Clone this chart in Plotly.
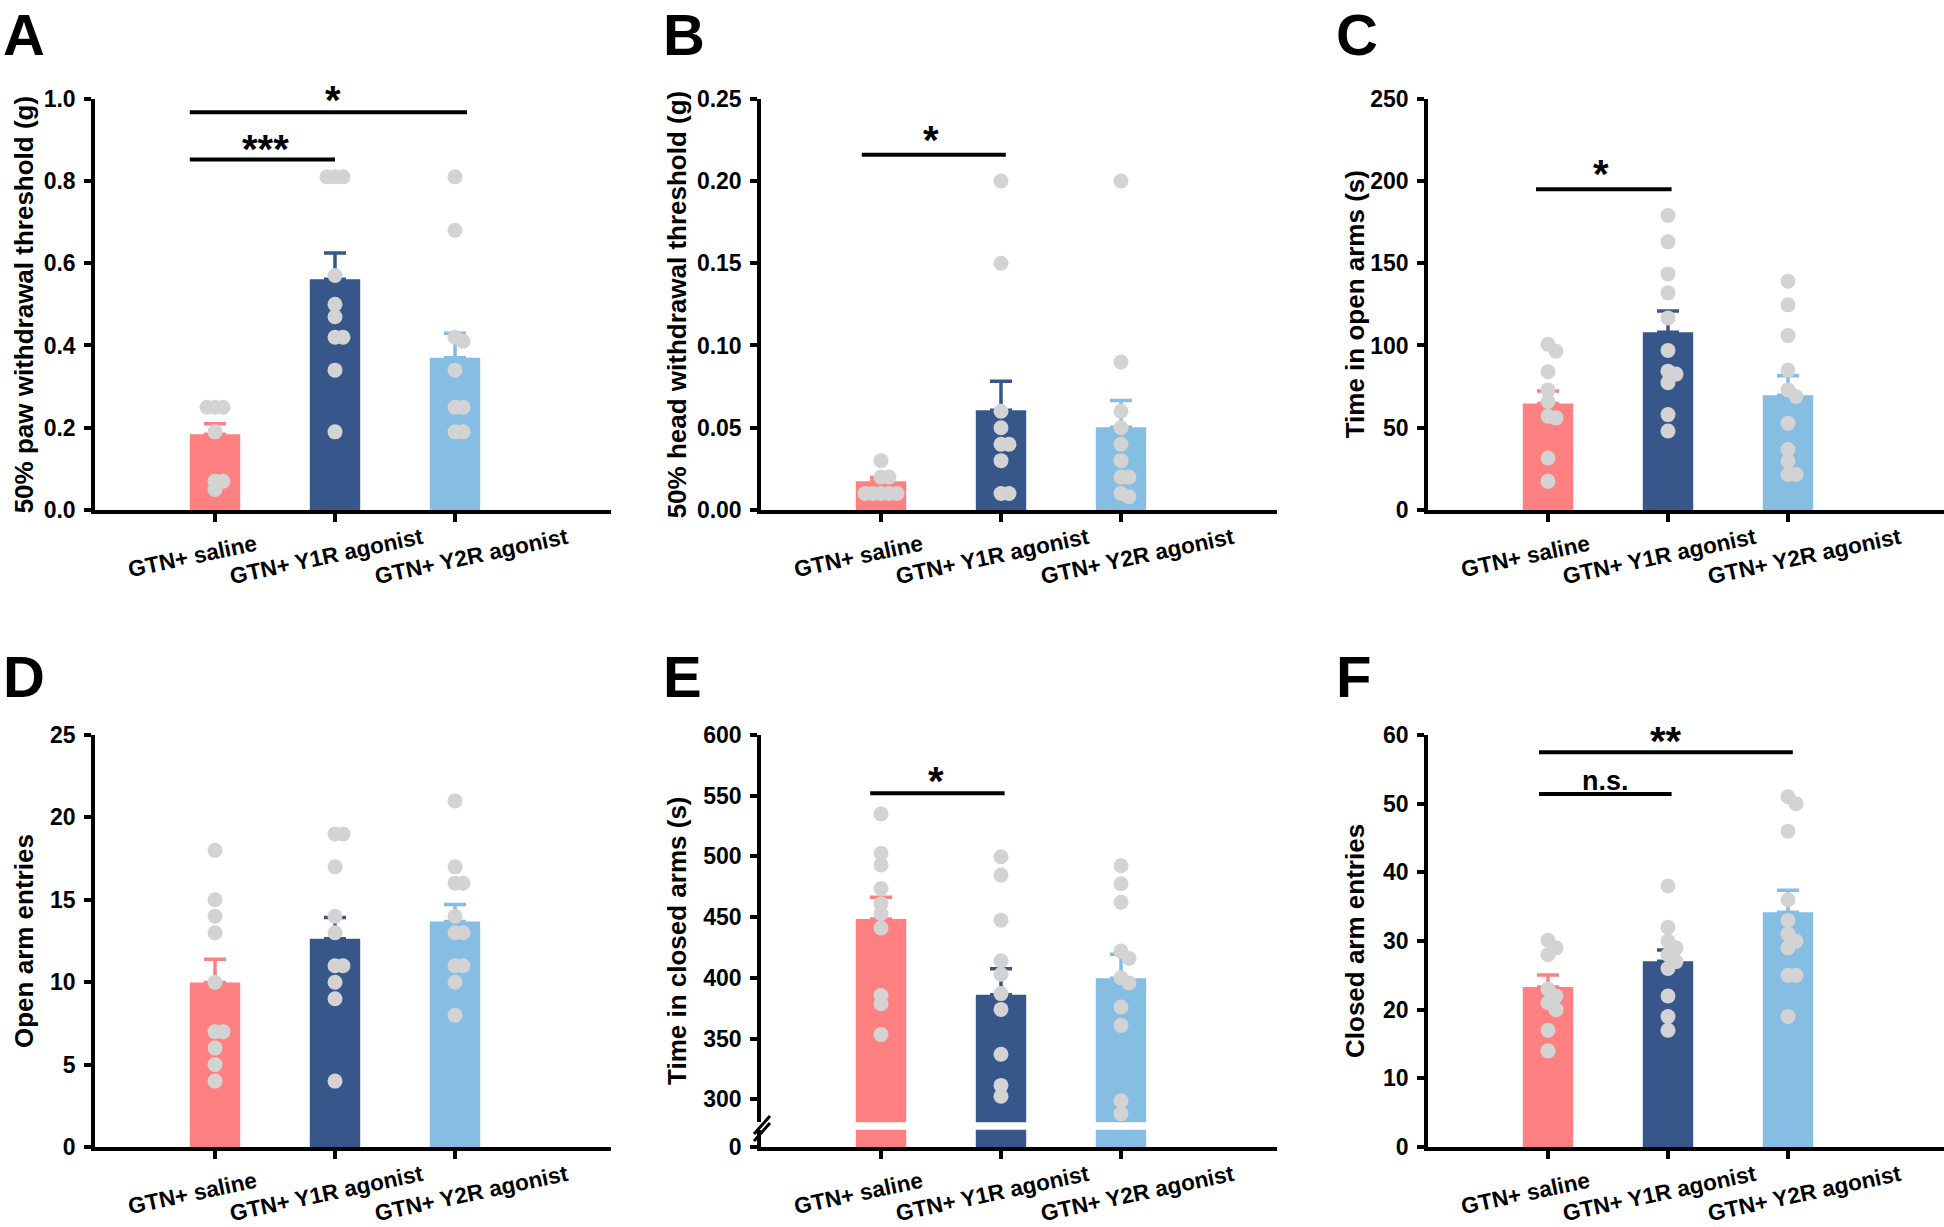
import plotly.graph_objects as go

W, H = 1944, 1227
FONT = "Liberation Sans, Arial, sans-serif"

categories = ["GTN+ saline", "GTN+ Y1R agonist", "GTN+ Y2R agonist"]
bar_colors = ["#FF8080", "#37578A", "#86BDE3"]
dot_color = "#D3D3D3"

# ---------------- data ----------------
# A: 50% paw withdrawal threshold (g)
A_mean = [0.184, 0.561, 0.370]
A_sem = [0.026, 0.064, 0.060]
A_saline = [0.25, 0.25, 0.25, 0.19, 0.07, 0.07, 0.05]
A_y1r = [0.81, 0.81, 0.81, 0.57, 0.50, 0.47, 0.42, 0.42, 0.34, 0.19]
A_y2r = [0.81, 0.68, 0.42, 0.41, 0.34, 0.25, 0.25, 0.19, 0.19]
A_ticks = [0.0, 0.2, 0.4, 0.6, 0.8, 1.0]
A_ticktext = ["0.0", "0.2", "0.4", "0.6", "0.8", "1.0"]

# B: 50% head withdrawal threshold (g)
B_mean = [0.0174, 0.0607, 0.0503]
B_sem = [0.0024, 0.0175, 0.0162]
B_saline = [0.03, 0.02, 0.02, 0.01, 0.01, 0.01, 0.01, 0.01]
B_y1r = [0.20, 0.15, 0.06, 0.05, 0.04, 0.04, 0.03, 0.01, 0.01]
B_y2r = [0.20, 0.09, 0.06, 0.05, 0.04, 0.03, 0.02, 0.02, 0.01, 0.008]
B_ticks = [0.0, 0.05, 0.10, 0.15, 0.20, 0.25]
B_ticktext = ["0.00", "0.05", "0.10", "0.15", "0.20", "0.25"]

# C: Time in open arms (s)
C_mean = [64.7, 108.0, 69.8]
C_sem = [7.6, 13.0, 11.8]
C_saline = [100.7, 96.5, 84, 73, 66, 57, 56, 31.6, 17.4]
C_y1r = [179, 163, 143.5, 132, 116.7, 97, 84.4, 82.6, 77.4, 58, 48]
C_y2r = [139, 124.7, 106, 85, 73, 69, 52.8, 36.7, 29.8, 21.6, 21.6]
C_ticks = [0, 50, 100, 150, 200, 250]
C_ticktext = ["0", "50", "100", "150", "200", "250"]

# D: Open arm entries
D_mean = [9.98, 12.64, 13.68]
D_sem = [1.42, 1.28, 1.04]
D_saline = [18, 15, 14, 13, 10, 7, 7, 6, 5, 4]
D_y1r = [19, 19, 17, 14, 13, 11, 11, 10, 9, 4]
D_y2r = [21, 17, 16, 16, 14, 13, 13, 11, 11, 10, 8]
D_ticks = [0, 5, 10, 15, 20, 25]
D_ticktext = ["0", "5", "10", "15", "20", "25"]

# E: Time in closed arms (s)  (broken axis)
E_mean = [448.5, 386.0, 399.7]
E_sem = [17.9, 21.4, 19.7]
E_saline = [535, 502.5, 493, 473.5, 461, 453, 441, 385.5, 378.7, 353.4]
E_y1r = [499.7, 484.6, 447.5, 414, 403, 387, 374, 337, 311.4, 302.5]
E_y2r = [492.3, 477.5, 462.3, 422, 416, 400, 395.7, 376, 360.8, 298.8, 288]
E_ticks = [300, 350, 400, 450, 500, 550, 600]
E_ticktext = ["300", "350", "400", "450", "500", "550", "600"]

# F: Closed arm entries
F_mean = [23.3, 27.05, 34.2]
F_sem = [1.74, 1.65, 3.2]
F_saline = [30.1, 29, 28, 23, 22, 21, 20, 17, 14]
F_y1r = [38, 32, 30, 29, 28, 27, 26, 22, 19, 17]
F_y2r = [51, 50, 46, 36, 33, 31, 30, 29, 25, 25, 19]
F_ticks = [0, 10, 20, 30, 40, 50, 60]
F_ticktext = ["0", "10", "20", "30", "40", "50", "60"]

# significance brackets: (x start, x end, y of line, label, label y, label x)
A_sig = [(-0.21, 1.0, 0.852, "***", 0.887, 0.42), (-0.21, 2.1, 0.967, "*", 1.006, 0.98)]
B_sig = [(-0.16, 1.04, 0.216, "*", 0.2275, 0.42)]
C_sig = [(-0.10, 1.03, 195, "*", 206.5, 0.44)]
D_sig = []
E_sig = [(-0.09, 1.03, 552, "*", 565.4, 0.46)]
F_sig = [(-0.075, 2.04, 57.5, "**", 59.7, 0.98), (-0.075, 1.03, 51.4, "n.s.", 53.5, 0.48)]

panels = [
    dict(letter="A", title="50% paw withdrawal threshold (g)", mean=A_mean, sem=A_sem,
         dots=[A_saline, A_y1r, A_y2r], ticks=A_ticks, ticktext=A_ticktext, sig=A_sig),
    dict(letter="B", title="50% head withdrawal threshold (g)", mean=B_mean, sem=B_sem,
         dots=[B_saline, B_y1r, B_y2r], ticks=B_ticks, ticktext=B_ticktext, sig=B_sig),
    dict(letter="C", title="Time in open arms (s)", mean=C_mean, sem=C_sem,
         dots=[C_saline, C_y1r, C_y2r], ticks=C_ticks, ticktext=C_ticktext, sig=C_sig),
    dict(letter="D", title="Open arm entries", mean=D_mean, sem=D_sem,
         dots=[D_saline, D_y1r, D_y2r], ticks=D_ticks, ticktext=D_ticktext, sig=D_sig),
    dict(letter="E", title="Time in closed arms (s)", mean=E_mean, sem=E_sem,
         dots=[E_saline, E_y1r, E_y2r], ticks=E_ticks, ticktext=E_ticktext, sig=E_sig),
    dict(letter="F", title="Closed arm entries", mean=F_mean, sem=F_sem,
         dots=[F_saline, F_y1r, F_y2r], ticks=F_ticks, ticktext=F_ticktext, sig=F_sig),
]

# ---------------- geometry (pixels) ----------------
COL_LEFT = [95, 761, 1428]
PLOT_W = 516
ROW_TOP = [98.7, 735]
ROW_BOT = [510, 1147]
XRANGE = [-1, 3.3]
PX_PER_CAT = PLOT_W / (XRANGE[1] - XRANGE[0])
TITLE_X = [24, 677, 1355]
LETTER_X = [1, 661, 1334]
LETTER_TOP = [0, 642]
E_BREAK_LOW_TOP = 1129.7
E_BREAK_UP_BOT = 1122.3
E_UP_MIN = 281

def fx(p):
    return p / W

def fy(p):
    return 1 - p / H

def swarm(values, ppu, d=8.0, step=8.0):
    order = sorted(range(len(values)), key=lambda i: -values[i])
    placed = []
    res = [0.0] * len(values)
    for i in order:
        y = values[i] * ppu
        x = 0.0
        for k in [0, 1, -1, 2, -2, 3, -3, 4, -4]:
            x = k * step
            if all((x - a) ** 2 + (y - b) ** 2 >= d * d - 1e-6 for a, b in placed):
                break
        placed.append((x, y))
        res[i] = x / PX_PER_CAT
    return res

AX_LW = 3.5
tickfont = dict(family=FONT, size=23, color="black", weight="bold")

fig = go.Figure()
layout = {}
annotations = []
shapes = []

label_dx = [-23, -9, 16.5]
LABEL_DY = 46

for n, p in enumerate(panels, start=1):
    r, c = (n - 1) // 3, (n - 1) % 3
    left = COL_LEFT[c]
    top, bot = ROW_TOP[r], ROW_BOT[r]
    xa, ya = f"x{n}", f"y{n}"
    is_broken = p["letter"] == "E"
    base_axis = dict(showgrid=False, zeroline=False, showline=True, linecolor="black",
                     linewidth=AX_LW, ticks="outside", tickwidth=AX_LW, tickcolor="black")
    layout[f"xaxis{n}"] = dict(base_axis, domain=[fx(left), fx(left + PLOT_W)], range=XRANGE,
                               anchor=ya, tickvals=[0, 1, 2], ticklen=8, showticklabels=False)
    if not is_broken:
        ymin, ymax = p["ticks"][0], p["ticks"][-1]
        layout[f"yaxis{n}"] = dict(base_axis, domain=[fy(bot), fy(top)], range=[ymin, ymax],
                                   anchor=xa, tickvals=p["ticks"], ticktext=p["ticktext"],
                                   ticklen=7, tickfont=tickfont, ticklabelstandoff=4)
        ybar = ya
        ppu = (bot - top) / (ymax - ymin)
        ytop_val = ymax
    else:
        layout[f"yaxis{n}"] = dict(base_axis, domain=[fy(bot + 0.3), fy(E_BREAK_LOW_TOP)], range=[0, 20],
                                   anchor=xa, tickvals=[0], ticktext=["0"], ticklen=7,
                                   tickfont=tickfont, ticklabelstandoff=4)
        layout["yaxis7"] = dict(base_axis, domain=[fy(E_BREAK_UP_BOT), fy(top)],
                                range=[E_UP_MIN, p["ticks"][-1]], anchor=xa,
                                tickvals=p["ticks"], ticktext=p["ticktext"], ticklen=7,
                                tickfont=tickfont, ticklabelstandoff=4)
        ybar = "y7"
        ppu = (E_BREAK_UP_BOT - top) / (p["ticks"][-1] - E_UP_MIN)
        ytop_val = p["ticks"][-1]
        # lower segment of the bars
        for i in range(3):
            fig.add_trace(go.Bar(x=[i], y=[p["mean"][i]], width=0.42, xaxis=xa, yaxis=ya,
                                 marker=dict(color=bar_colors[i], line=dict(width=0)),
                                 showlegend=False, hoverinfo="skip"))
        # axis break marks
        for dyb in [0, 7]:
            shapes.append(dict(type="line", xref="paper", yref="paper",
                               x0=fx(754), y0=fy(1134 + dyb), x1=fx(770), y1=fy(1116 + dyb),
                               line=dict(color="black", width=3)))

    # bars with SEM
    for i in range(3):
        fig.add_trace(go.Bar(x=[i], y=[p["mean"][i]], width=0.42, xaxis=xa, yaxis=ybar,
                             marker=dict(color=bar_colors[i], line=dict(width=0)),
                             error_y=dict(type="data", symmetric=False, array=[p["sem"][i]],
                                          arrayminus=[0], color=bar_colors[i], thickness=3.5, width=11),
                             name=categories[i], showlegend=False))
    # individual dots
    for i in range(3):
        vals = p["dots"][i]
        offs = swarm(vals, ppu)
        fig.add_trace(go.Scatter(x=[i + o for o in offs], y=vals, mode="markers", xaxis=xa, yaxis=ybar,
                                 marker=dict(color=dot_color, size=15, line=dict(width=0)),
                                 showlegend=False, name=categories[i]))

    # significance
    for (x0, x1, yl, lab, ylab, xlab) in p["sig"]:
        shapes.append(dict(type="line", xref=xa, yref=ybar, x0=x0, x1=x1, y0=yl, y1=yl,
                           line=dict(color="black", width=4)))
        is_star = "*" in lab
        ypix = top + (ytop_val - ylab) * ppu
        annotations.append(dict(text=lab, xref=xa, yref="paper", x=xlab, y=fy(ypix), showarrow=False,
                                xanchor="center", yanchor="middle", yshift=-4 if is_star else -1,
                                font=dict(family=FONT, size=40 if is_star else 27, color="black",
                                          weight="bold")))

    # category labels (rotated)
    for i, cat in enumerate(categories):
        annotations.append(dict(text=cat, xref=xa, yref="paper", x=i, y=fy(bot + LABEL_DY),
                                xshift=label_dx[i], showarrow=False, textangle=-12,
                                xanchor="center", yanchor="middle",
                                font=dict(family=FONT, size=22.5, color="black", weight="bold")))

    # y-axis title
    annotations.append(dict(text=p["title"], xref="paper", yref="paper", x=fx(TITLE_X[c]),
                            y=fy((top + bot) / 2), showarrow=False, textangle=-90,
                            xanchor="center", yanchor="middle",
                            font=dict(family=FONT, size=26, color="black", weight="bold")))
    # panel letter
    annotations.append(dict(text=p["letter"], xref="paper", yref="paper", x=fx(LETTER_X[c]),
                            y=fy(LETTER_TOP[r]), showarrow=False, xanchor="left", yanchor="top",
                            font=dict(family=FONT, size=58, color="black", weight="bold")))

fig.update_layout(width=W, height=H, margin=dict(l=0, r=0, t=0, b=0, pad=0, autoexpand=False),
                  paper_bgcolor="white", plot_bgcolor="white", barmode="overlay",
                  showlegend=False, annotations=annotations, shapes=shapes, **layout)

fig.write_html("out.html", config={"displayModeBar": False},
               post_script="document.body.style.margin='0';")
